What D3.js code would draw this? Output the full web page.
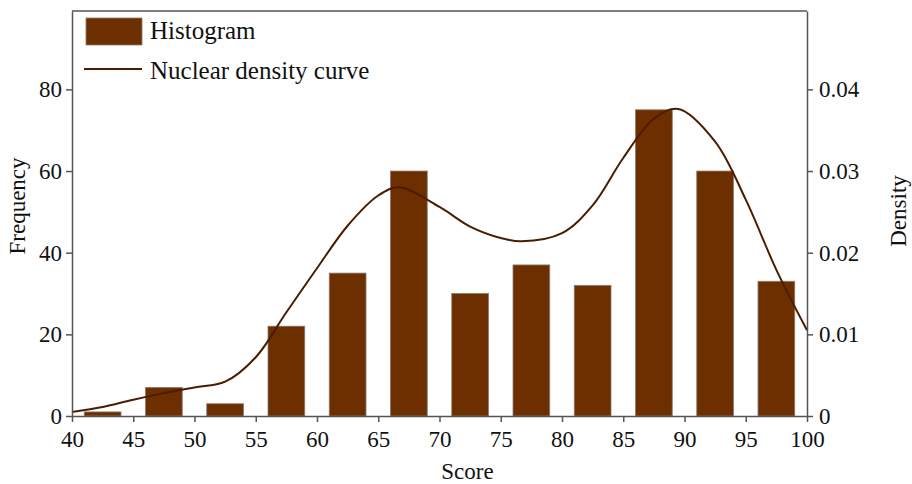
<!DOCTYPE html>
<html>
<head>
<meta charset="utf-8">
<script src="https://cdn.jsdelivr.net/npm/d3@7"></script>
<style>
  html, body { margin: 0; padding: 0; background: #fff; }
  svg { display: block; }
  text { font-family: "Liberation Serif", "Times New Roman", serif; fill: #111; }
</style>
</head>
<body>
<svg id="chart" width="912" height="484"></svg>
<script>
// Histogram bins: start of each 5-point bin and its count
const binStarts = [40, 45, 50, 55, 60, 65, 70, 75, 80, 85, 90, 95];
const frequencies = [1, 7, 3, 22, 35, 60, 30, 37, 32, 75, 60, 33];

// Kernel density curve sample points
const densityScores = [40, 42.5, 45, 47.5, 50, 52.5, 55, 57.5, 60, 62.5, 65, 66.7, 70, 72.5, 75, 76.7, 80, 82.5, 85, 87.5, 89.5, 92.5, 95, 97.5, 100];
const densityValues = [0.0005, 0.0011, 0.002, 0.0028, 0.0035, 0.0042, 0.0072, 0.0127, 0.0181, 0.0233, 0.027, 0.028, 0.0256, 0.0232, 0.0218, 0.0214, 0.0224, 0.0258, 0.0316, 0.0364, 0.0376, 0.0336, 0.0265, 0.0179, 0.0105];

// Axis ticks
const xTicks = [40, 45, 50, 55, 60, 65, 70, 75, 80, 85, 90, 95, 100];
const freqTicks = [0, 20, 40, 60, 80];
const densityTicks = [0, 0.01, 0.02, 0.03, 0.04];

const barColor = "#6d2f00";
const curveColor = "#4a1d00";
const axisColor = "#555";

const svg = d3.select("#chart");
const m = { left: 72, right: 105, top: 11, bottom: 68 };
const W = 912, H = 484;

const x = d3.scaleLinear().domain([40, 100]).range([m.left, W - m.right]);
const yL = d3.scaleLinear().domain([0, 99.2]).range([H - m.bottom, m.top]);
const yR = d3.scaleLinear().domain([0, 0.0496]).range([H - m.bottom, m.top]);

// Bars: each occupies the middle 3 points of its 5-point bin
const bars = binStarts.map((s, i) => ({ s, f: frequencies[i] }));
svg.append("g").selectAll("rect").data(bars).join("rect")
  .attr("x", d => x(d.s + 1))
  .attr("width", d => x(d.s + 4) - x(d.s + 1))
  .attr("y", d => yL(d.f))
  .attr("height", d => yL(0) - yL(d.f))
  .attr("fill", barColor)
  .attr("stroke", "#8a7b72")
  .attr("stroke-width", 0.8);

// Density curve
const pts = densityScores.map((s, i) => [s, densityValues[i]]);
svg.append("path")
  .datum(pts)
  .attr("fill", "none")
  .attr("stroke", curveColor)
  .attr("stroke-width", 2)
  .attr("d", d3.line().x(d => x(d[0])).y(d => yR(d[1])).curve(d3.curveCatmullRom.alpha(0.5)));

// Top frame line
svg.append("line")
  .attr("x1", m.left).attr("x2", W - m.right)
  .attr("y1", m.top).attr("y2", m.top)
  .attr("stroke", axisColor).attr("stroke-width", 1.5);

function styleAxis(g) {
  g.selectAll("path").attr("stroke", axisColor).attr("stroke-width", 1.5);
  g.selectAll("line").attr("stroke", axisColor).attr("stroke-width", 1.5);
  g.selectAll("text").attr("font-size", 23).attr("font-family", "Liberation Serif").attr("fill", "#111");
}

svg.append("g")
  .attr("transform", `translate(0,${H - m.bottom})`)
  .call(d3.axisBottom(x).tickValues(xTicks).tickSize(6).tickPadding(9).tickSizeOuter(0))
  .call(styleAxis);

svg.append("g")
  .attr("transform", `translate(${m.left},0)`)
  .call(d3.axisLeft(yL).tickValues(freqTicks).tickSize(6).tickPadding(4).tickSizeOuter(0))
  .call(styleAxis);

svg.append("g")
  .attr("transform", `translate(${W - m.right},0)`)
  .call(d3.axisRight(yR).tickValues(densityTicks).tickSize(6).tickPadding(6).tickSizeOuter(0)
    .tickFormat(d => d === 0 ? "0" : d3.format(".2f")(d)))
  .call(styleAxis);

// Axis titles
svg.append("text")
  .attr("x", (x(40) + x(100)) / 2 + 28).attr("y", 479)
  .attr("text-anchor", "middle").attr("font-size", 23)
  .text("Score");

svg.append("text")
  .attr("transform", "translate(25,206) rotate(-90)")
  .attr("text-anchor", "middle").attr("font-size", 23)
  .text("Frequency");

svg.append("text")
  .attr("transform", "translate(906,211) rotate(-90)")
  .attr("text-anchor", "middle").attr("font-size", 23)
  .text("Density");

// Legend
const lg = svg.append("g");
lg.append("rect")
  .attr("x", 86).attr("y", 18).attr("width", 56).attr("height", 27)
  .attr("fill", barColor).attr("stroke", "#8a7b72").attr("stroke-width", 0.8);
lg.append("text").attr("x", 150).attr("y", 39).attr("font-size", 25).text("Histogram");
lg.append("line")
  .attr("x1", 84).attr("x2", 142).attr("y1", 69).attr("y2", 69)
  .attr("stroke", curveColor).attr("stroke-width", 2);
lg.append("text").attr("x", 150).attr("y", 79).attr("font-size", 25).text("Nuclear density curve");
</script>
</body>
</html>
